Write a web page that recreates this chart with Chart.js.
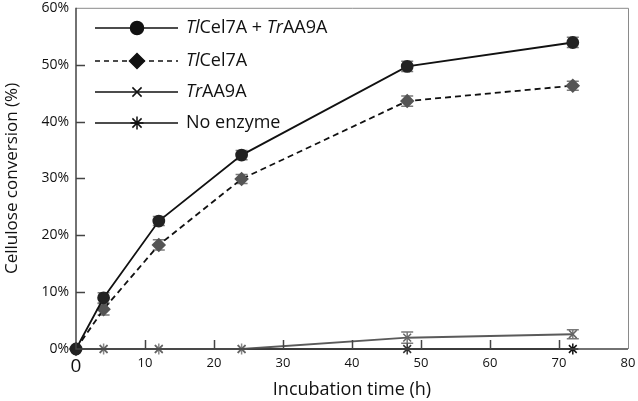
<!DOCTYPE html>
<html><head><meta charset="utf-8">
<script src="https://cdn.jsdelivr.net/npm/chart.js@4/dist/chart.umd.min.js"></script>
<style>html,body{margin:0;padding:0;background:#fff}</style>
</head><body>
<canvas id="c" width="638" height="401" style="width:638px;height:401px;display:block"></canvas>
<script>
// ---- data ----
const times = [0, 4, 12, 24, 48, 72];
const comboValues = [0, 9.0, 22.5, 34.1, 49.7, 53.9];
const comboErrors = [0, 0.9, 0.8, 0.8, 0.9, 0.9];
const cel7aValues = [0, 7.0, 18.3, 29.9, 43.6, 46.3];
const cel7aErrors = [0, 1.0, 0.9, 0.8, 0.9, 0.8];
const aa9aValues = [0, 0, 0, 0, 2.0, 2.6];
const aa9aErrors = [0, 0, 0, 0, 1.0, 0.8];
const noEnzymeValues = [0, 0, 0, 0, 0, 0];
const xTicks = [0, 10, 20, 30, 40, 50, 60, 70, 80];
const yTicks = [0, 10, 20, 30, 40, 50, 60];
const legendLabels = [
  [['Tl', true], ['Cel7A + ', false], ['Tr', true], ['AA9A', false]],
  [['Tl', true], ['Cel7A', false]],
  [['Tr', true], ['AA9A', false]],
  [['No enzyme', false]]
];

const FONT = '"Open Sans", "Noto Sans", sans-serif';
const pts = (vals) => times.map((t, i) => ({x: t, y: vals[i]}));

const errorSets = [comboErrors, cel7aErrors, aa9aErrors, null];

const errorBarPlugin = {
  id: 'errorBars',
  beforeDatasetsDraw(chart) {
    const ctx = chart.ctx, xs = chart.scales.x, ys = chart.scales.y;
    ctx.save();
    ctx.strokeStyle = '#7a7a7a';
    ctx.lineWidth = 1.5;
    chart.data.datasets.forEach((ds, di) => {
      const errs = errorSets[di];
      if (!errs) return;
      ds.data.forEach((p, i) => {
        const e = errs[i];
        if (!e) return;
        const x = xs.getPixelForValue(p.x);
        const y1 = ys.getPixelForValue(p.y + e), y2 = ys.getPixelForValue(p.y - e);
        ctx.beginPath();
        ctx.moveTo(x, y1); ctx.lineTo(x, y2);
        ctx.moveTo(x - 6, y1); ctx.lineTo(x + 6, y1);
        ctx.moveTo(x - 6, y2); ctx.lineTo(x + 6, y2);
        ctx.stroke();
      });
    });
    ctx.restore();
  }
};

const framePlugin = {
  id: 'frame',
  afterDraw(chart) {
    const ctx = chart.ctx, a = chart.chartArea, xs = chart.scales.x, ys = chart.scales.y;
    ctx.save();
    ctx.strokeStyle = '#8a8a8a';
    ctx.lineWidth = 1;
    ctx.beginPath();
    ctx.moveTo(a.left, a.top + 0.5); ctx.lineTo(a.right + 0.5, a.top + 0.5); ctx.lineTo(a.right + 0.5, a.bottom);
    ctx.stroke();
    ctx.strokeStyle = '#444';
    ctx.lineWidth = 1.5;
    ctx.beginPath();
    ctx.moveTo(a.left, a.top); ctx.lineTo(a.left, a.bottom); ctx.lineTo(a.right, a.bottom);
    xTicks.forEach(v => {
      if (v === 0 || v === 80) return;
      const x = Math.round(xs.getPixelForValue(v)) + 0.5;
      ctx.moveTo(x, a.bottom); ctx.lineTo(x, a.bottom - 9);
    });
    yTicks.forEach(v => {
      if (v === 0 || v === 60) return;
      const y = Math.round(ys.getPixelForValue(v)) + 0.5;
      ctx.moveTo(a.left, y); ctx.lineTo(a.left + 9, y);
    });
    ctx.stroke();
    ctx.restore();
  }
};

const legendPlugin = {
  id: 'customLegend',
  afterDraw(chart) {
    const ctx = chart.ctx;
    const rows = [28, 61, 92, 123];
    const styles = [
      {pointStyle: 'circle', radius: 6.5, dash: []},
      {pointStyle: 'rectRot', radius: 7.5, dash: [5, 4]},
      {pointStyle: 'crossRot', radius: 6.5, dash: []},
      {pointStyle: 'star', radius: 6.5, dash: []}
    ];
    ctx.save();
    rows.forEach((y, i) => {
      const s = styles[i];
      ctx.strokeStyle = '#111';
      ctx.lineWidth = 1.5;
      ctx.setLineDash(s.dash);
      ctx.beginPath(); ctx.moveTo(95, y); ctx.lineTo(178, y); ctx.stroke();
      ctx.setLineDash([]);
      ctx.fillStyle = '#111';
      ctx.strokeStyle = '#111';
      Chart.helpers.drawPoint(ctx, {pointStyle: s.pointStyle, radius: s.radius, rotation: 0, borderWidth: 2}, 137, y);
      ctx.fillStyle = '#111';
      ctx.textBaseline = 'middle';
      let x = 186;
      legendLabels[i].forEach(([txt, it]) => {
        ctx.font = (it ? 'italic ' : '') + '18px ' + FONT;
        ctx.fillText(txt, x, y);
        x += ctx.measureText(txt).width;
      });
    });
    ctx.restore();
  }
};

new Chart(document.getElementById('c'), {
  type: 'line',
  data: {
    datasets: [
      {label: 'TlCel7A + TrAA9A', data: pts(comboValues), borderColor: '#111', borderWidth: 1.8,
       pointStyle: 'circle', pointRadius: 5.5, pointBackgroundColor: '#222', pointBorderColor: '#222', clip: false},
      {label: 'TlCel7A', data: pts(cel7aValues), borderColor: '#111', borderWidth: 1.8, borderDash: [6, 4],
       pointStyle: 'rectRot', pointRadius: 6, pointBackgroundColor: '#555', pointBorderColor: '#555', clip: false},
      {label: 'TrAA9A', data: pts(aa9aValues), borderColor: '#5a5a5a', borderWidth: 2,
       pointStyle: 'crossRot', pointRadius: 5.5, pointBorderWidth: 1.5, pointBorderColor: '#666', clip: false},
      {label: 'No enzyme', data: pts(noEnzymeValues), borderColor: '#222', borderWidth: 2,
       pointStyle: 'star', pointRadius: 5.5, pointBorderWidth: 1.5,
       pointBorderColor: ['#222', '#888', '#888', '#888', '#333', '#111'], clip: false}
    ]
  },
  options: {
    responsive: false,
    animation: false,
    layout: {padding: {top: 7, right: 10, left: 0, bottom: 0}},
    plugins: {legend: {display: false}, tooltip: {enabled: false}},
    scales: {
      x: {
        type: 'linear', min: 0, max: 80,
        afterBuildTicks: (s) => { s.ticks = xTicks.map(v => ({value: v})); },
        ticks: {padding: 6, color: '#111', maxRotation: 0,
          font: (c) => (c.tick && c.tick.value === 0) ? {family: FONT, size: 19} : {family: FONT, size: 13}},
        grid: {display: false, drawTicks: false, tickLength: 0}, border: {display: false},
        title: {display: true, text: 'Incubation time (h)', color: '#111', font: {family: FONT, size: 18}, padding: {top: 2, bottom: 0}},
        afterFit: (s) => { s.height = 52; s.paddingLeft = 0; s.paddingRight = 0; }
      },
      y: {
        min: 0, max: 60,
        afterBuildTicks: (s) => { s.ticks = yTicks.map(v => ({value: v})); },
        ticks: {padding: 7, color: '#111', font: {family: FONT, size: 14}, callback: (v) => v + '%'},
        grid: {display: false, drawTicks: false, tickLength: 0}, border: {display: false},
        title: {display: true, text: 'Cellulose conversion (%)', color: '#111', font: {family: FONT, size: 17}, padding: {top: 2, bottom: 0}},
        afterFit: (s) => { s.width = 76; s.paddingTop = 0; s.paddingBottom = 0; }
      }
    }
  },
  plugins: [errorBarPlugin, framePlugin, legendPlugin]
});
</script>
</body></html>
